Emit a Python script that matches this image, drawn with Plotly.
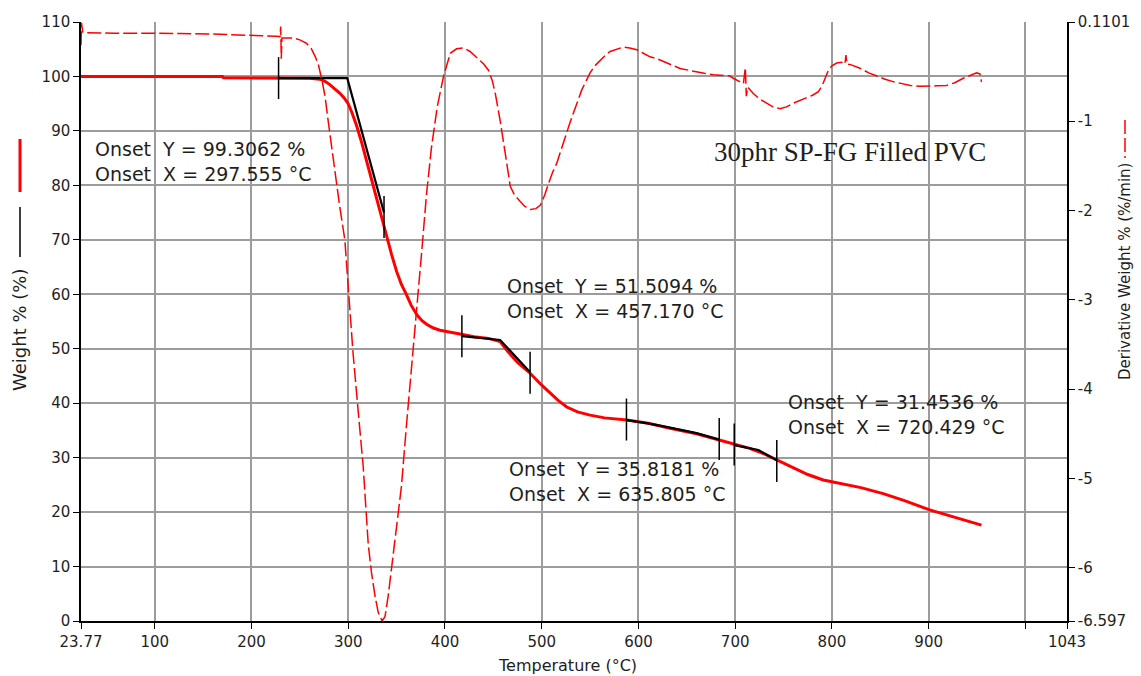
import plotly.graph_objects as go

# ---------------- data ----------------
# Weight % curve (TGA)
temp_w = [23.77, 100, 170, 171, 230, 260, 270.7, 276, 281, 286, 291.4, 296, 300, 304, 308.6, 314, 319,
          324, 329.3, 334.5, 339.7, 345, 350, 355, 360.3, 365, 370.7, 376, 381, 388, 394.8, 405, 415.5,
          430, 445, 457, 465, 475, 488, 500, 508.6, 517, 525.9, 537, 550, 565, 588, 610, 632.6, 660,
          684.4, 700, 715, 730, 743, 760, 775, 791, 810, 830, 853, 875, 901, 925, 954.6]
weight = [100.0, 100.0, 100.0, 99.75, 99.7, 99.65, 99.5, 99.1, 98.5, 97.8, 96.9, 96.0, 95.0, 93.3, 91.0,
          87.8, 84.5, 80.9, 77.3, 73.9, 70.6, 67.2, 64.2, 61.8, 59.9, 58.0, 56.3, 55.2, 54.5, 53.8, 53.4,
          53.0, 52.7, 52.2, 51.9, 51.3, 49.5, 47.5, 45.5, 43.3, 41.8, 40.5, 39.3, 38.4, 37.8, 37.3, 36.9,
          36.3, 35.4, 34.4, 33.2, 32.4, 31.7, 30.7, 29.6, 28.1, 26.9, 25.9, 25.2, 24.5, 23.4, 22.1, 20.4,
          19.1, 17.6]

# Derivative weight % curve (DTG)
temp_d = [23.77, 24.3, 25.5, 30, 57, 90, 126, 160, 195, 215, 226, 229.5, 230.2, 230.8, 231.5, 243, 250,
          257, 262, 266, 269, 273, 276, 279.3, 283, 286, 291, 296.5, 300, 305, 310, 315.5, 320.7, 324,
          327.6, 331, 335, 338, 341.4, 345, 350, 355, 360, 365.5, 370.7, 375.9, 381, 386, 392, 398.5,
          405.5, 412, 419, 426, 433, 440, 445, 449, 452, 457, 462.3, 467.5, 472, 476, 482, 488.4, 494,
          498.7, 503, 507, 511, 515.6, 520, 524.2, 528.5, 532.8, 537, 541.4, 546, 550, 555, 560.5, 566,
          570.8, 578, 584.5, 591, 598.3, 605, 612, 619, 626, 635, 643, 652, 660, 668, 677.4, 686, 694.6,
          698, 703, 708.5, 710.5, 711.5, 713, 718.7, 725, 732.5, 739, 746.5, 753, 760, 767, 774, 780,
          786, 790, 793, 796.4, 800, 805, 810, 813.5, 814.5, 815.5, 820, 829.6, 838, 846.8, 855, 864,
          872, 881, 890, 898, 908, 918.5, 927, 935.7, 943, 949.5, 953, 954.6]
deriv = [-0.15, 0.10, 0.0, -0.01, -0.015, -0.015, -0.018, -0.025, -0.035, -0.04, -0.05, -0.055, 0.06,
         -0.3, -0.07, -0.07, -0.09, -0.13, -0.19, -0.28, -0.36, -0.55, -0.72, -1.0, -1.3, -1.55, -1.94,
         -2.33, -2.9, -3.6, -4.21, -4.87, -5.74, -6.05, -6.31, -6.5, -6.597, -6.55, -6.31, -6.0, -5.52,
         -5.09, -4.43, -3.78, -3.12, -2.47, -1.81, -1.3, -0.84, -0.50, -0.24, -0.19, -0.18, -0.22, -0.29,
         -0.36, -0.43, -0.55, -0.69, -0.99, -1.36, -1.73, -1.83, -1.88, -1.95, -1.99, -1.98, -1.94, -1.83,
         -1.70, -1.58, -1.47, -1.32, -1.17, -1.04, -0.91, -0.78, -0.65, -0.55, -0.46, -0.38, -0.315,
         -0.26, -0.22, -0.19, -0.17, -0.18, -0.20, -0.24, -0.28, -0.30, -0.33, -0.37, -0.41, -0.43, -0.45,
         -0.465, -0.48, -0.49, -0.495, -0.52, -0.55, -0.58, -0.40, -0.72, -0.62, -0.69, -0.75, -0.80,
         -0.84, -0.86, -0.84, -0.80, -0.77, -0.74, -0.71, -0.67, -0.60, -0.52, -0.43, -0.38, -0.35,
         -0.34, -0.36, -0.26, -0.36, -0.37, -0.41, -0.46, -0.50, -0.53, -0.56, -0.58, -0.60, -0.61,
         -0.61, -0.605, -0.60, -0.57, -0.52, -0.49, -0.46, -0.47, -0.56]

# Onset tangent constructions (black)
onset_x = [228, 299, 337, None, 417.5, 457, 488, None, 588, 610, 632.6, 660, 683.5, None, 699, 715, 724, 743]
onset_y = [99.7, 99.7, 75.0, None, 52.3, 51.6, 45.7, None, 36.9, 36.3, 35.5, 34.5, 33.3, None, 32.3, 31.8, 31.4, 29.5]

# Onset cursor marks
mark_x = [228, 337, 417.5, 488, 587.6, 683.5, 699, 743]
mark_y = [99.7, 74.2, 52.3, 45.6, 37.0, 33.4, 32.4, 29.4]

# Onset labels
onset_labels = [
    ("Onset  Y = 99.3062 %", "Onset  X = 297.555 °C", 36.5, 86.7, 82.1),
    ("Onset  Y = 51.5094 %", "Onset  X = 457.170 °C", 462.1, 61.5, 56.9),
    ("Onset  Y = 35.8181 %", "Onset  X = 635.805 °C", 464.1, 27.9, 23.3),
    ("Onset  Y = 31.4536 %", "Onset  X = 720.429 °C", 752.5, 40.2, 35.6),
]

x_ticks = [23.77, 100, 200, 300, 400, 500, 600, 700, 800, 900, 1000, 1043]
x_ticktext = ["23.77", "100", "200", "300", "400", "500", "600", "700", "800", "900", "", "1043"]
y_ticks = [0, 10, 20, 30, 40, 50, 60, 70, 80, 90, 100, 110]
y2_ticks = [0.1101, -1, -2, -3, -4, -5, -6, -6.597]
y2_ticktext = ["0.1101", "-1", "-2", "-3", "-4", "-5", "-6", "-6.597"]

title_text = "30phr SP-FG Filled PVC"

# ---------------- figure ----------------
RED = "#ff0000"
FONT = "DejaVu Sans"
TXT = "#1e1e1e"

fig = go.Figure()
fig.add_trace(go.Scatter(x=temp_d, y=deriv, yaxis="y2", mode="lines",
                         line=dict(color=RED, width=1.5, dash="14px,4px"), hoverinfo="skip"))
fig.add_trace(go.Scatter(x=temp_w, y=weight, mode="lines",
                         line=dict(color=RED, width=3), hoverinfo="skip"))
fig.add_trace(go.Scatter(x=onset_x, y=onset_y, mode="lines",
                         line=dict(color="black", width=2.2), hoverinfo="skip"))
fig.add_trace(go.Scatter(x=mark_x, y=mark_y, mode="markers",
                         marker=dict(symbol="line-ns", size=30, line=dict(color="black", width=1.5)),
                         hoverinfo="skip"))

annotations = []
for l1, l2, xx, y1, y2 in onset_labels:
    for txt, yy in ((l1, y1), (l2, y2)):
        annotations.append(dict(x=xx, y=yy, xref="x", yref="y", text=txt, showarrow=False,
                                xanchor="left", yanchor="middle",
                                font=dict(family=FONT, size=19, color=TXT)))
annotations.append(dict(x=818.7, y=86.1, xref="x", yref="y", text=title_text, showarrow=False,
                        xanchor="center", yanchor="middle",
                        font=dict(family="Liberation Serif", size=27, color=TXT)))
# axis titles
annotations.append(dict(x=0.493, y=-0.0735, xref="paper", yref="paper", text="Temperature (°C)",
                        showarrow=False, xanchor="center", yanchor="middle",
                        font=dict(family=FONT, size=16, color=TXT)))
annotations.append(dict(x=(20 - 81) / 986, y=(621 - 330) / 599, xref="paper", yref="paper",
                        text="Weight % (%)", textangle=-90, showarrow=False,
                        xanchor="center", yanchor="middle", font=dict(family=FONT, size=18, color=TXT)))
annotations.append(dict(x=(1125 - 81) / 986, y=(621 - 272) / 599, xref="paper", yref="paper",
                        text="Derivative Weight % (%/min)", textangle=-90, showarrow=False,
                        xanchor="center", yanchor="middle", font=dict(family=FONT, size=15, color=TXT)))

shapes = [
    dict(type="line", xref="paper", yref="paper", x0=(20 - 81) / 986, x1=(20 - 81) / 986,
         y0=(621 - 139) / 599, y1=(621 - 192) / 599, line=dict(color=RED, width=3)),
    dict(type="line", xref="paper", yref="paper", x0=(20 - 81) / 986, x1=(20 - 81) / 986,
         y0=(621 - 207) / 599, y1=(621 - 257) / 599, line=dict(color="black", width=1.5)),
    dict(type="line", xref="paper", yref="paper", x0=(1125 - 81) / 986, x1=(1125 - 81) / 986,
         y0=(621 - 120) / 599, y1=(621 - 158) / 599, line=dict(color=RED, width=1.5, dash="14px,4px")),
]

axis_common = dict(showline=True, linecolor="black", linewidth=1.5, ticks="outside", ticklen=6,
                   tickcolor="black", tickwidth=1.2, zeroline=False,
                   tickfont=dict(family=FONT, size=15, color=TXT))

fig.update_layout(
    width=1141, height=676,
    margin=dict(l=81, r=74, t=22, b=55),
    paper_bgcolor="white", plot_bgcolor="white",
    showlegend=False,
    xaxis=dict(range=[23.77, 1043], tickmode="array", tickvals=x_ticks, ticktext=x_ticktext,
               showgrid=True, gridcolor="#9c9c9c", gridwidth=1.5, **axis_common),
    yaxis=dict(range=[0, 110], tickmode="array", tickvals=y_ticks,
               showgrid=True, gridcolor="#9c9c9c", gridwidth=1.5, **axis_common),
    yaxis2=dict(range=[-6.597, 0.1101], overlaying="y", side="right", tickmode="array",
                tickvals=y2_ticks, ticktext=y2_ticktext, showgrid=False, **axis_common),
    annotations=annotations,
    shapes=shapes,
)

fig.write_html("out.html")
